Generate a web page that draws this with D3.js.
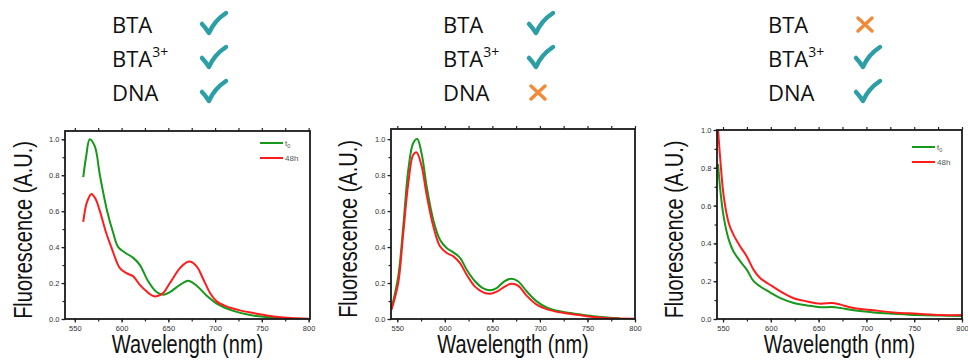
<!DOCTYPE html>
<html>
<head>
<meta charset="utf-8">
<script src="https://cdn.jsdelivr.net/npm/d3@7"></script>
<style>
  html, body { margin: 0; padding: 0; background: #fff; }
  svg { display: block; }
</style>
</head>
<body>
<svg id="chart" width="968" height="362"></svg>
<script>
// --- data ---
const rowLabels = ['BTA', 'BTA', 'DNA'];
const rowSup = ['', '3+', ''];
const presence = [
    [true, true, true],   // panel 1
    [true, true, false],  // panel 2
    [false, true, true]   // panel 3
];
const seriesNames = ['t', '48h'];
const xMajorTicks = [550, 600, 650, 700, 750, 800];
const yMajorTicks = [0, 0.2, 0.4, 0.6, 0.8, 1.0];

// panel 1 : [wavelength nm, fluorescence]
const p1T0 = [[559, 0.79], [562, 0.9], [566, 1.0], [571.4, 0.96], [576.8, 0.80], [584.6, 0.60], [591, 0.48],
    [596.4, 0.40], [603.5, 0.37], [612.5, 0.34], [619.6, 0.30], [628.5, 0.21], [637.4, 0.15], [644.6, 0.135],
    [651.7, 0.15], [662.4, 0.19], [671.3, 0.213], [680.3, 0.185], [691, 0.13], [701.7, 0.085], [719.5, 0.045],
    [737.4, 0.022], [755.2, 0.011], [773, 0.004], [799.8, 0.0]];
const p1H48 = [[559, 0.54], [563, 0.65], [567.8, 0.696], [572, 0.67], [576.8, 0.60], [583.5, 0.48], [589, 0.40],
    [598.2, 0.283], [605.3, 0.255], [612.5, 0.237], [619.6, 0.19], [626.7, 0.154], [633, 0.13], [637.4, 0.126],
    [644.6, 0.145], [651.7, 0.20], [662.4, 0.283], [669.5, 0.315], [673, 0.32], [680.3, 0.293], [687.5, 0.22],
    [694.6, 0.145], [701.7, 0.098], [712.4, 0.07], [726.6, 0.048], [740.9, 0.033], [755.2, 0.02], [773, 0.009],
    [799.8, 0.002]];

// panel 2
const p2T0 = [[544, 0.06], [551, 0.237], [556.3, 0.515], [561.6, 0.83], [566.8, 0.978], [571, 1.0], [575.6, 0.92],
    [580.9, 0.737], [587.9, 0.55], [594.9, 0.44], [601.9, 0.394], [609, 0.37], [616, 0.34], [623, 0.274],
    [631.7, 0.21], [640.5, 0.17], [647.5, 0.16], [654.5, 0.172], [663, 0.21], [670, 0.224], [677, 0.21],
    [686, 0.154], [696.6, 0.098], [707, 0.065], [721, 0.043], [738.6, 0.028], [756, 0.015], [773.7, 0.007],
    [784, 0.004]];
const p2H48 = [[544, 0.052], [551, 0.2], [556, 0.46], [561.6, 0.755], [566.8, 0.913], [570.3, 0.926], [575.6, 0.85],
    [580.9, 0.69], [587.9, 0.515], [594.9, 0.404], [602, 0.367], [609, 0.348], [616, 0.31], [623, 0.246],
    [631.7, 0.18], [640.5, 0.148], [647.5, 0.14], [654.5, 0.152], [663, 0.18], [670, 0.196], [677, 0.185],
    [686, 0.13], [696.6, 0.08], [707, 0.055], [721, 0.037], [738.6, 0.024], [756, 0.011], [773.7, 0.004],
    [800, 0.002]];

// panel 3
const p3T0 = [[544.8, 0.82], [547.2, 0.68], [550.7, 0.54], [556, 0.42], [561, 0.357], [568, 0.305], [575, 0.26],
    [582, 0.2], [589, 0.172], [599.5, 0.14], [610, 0.11], [624, 0.085], [638, 0.072], [652, 0.062], [664, 0.063],
    [672.7, 0.058], [686.7, 0.046], [707.6, 0.035], [728.5, 0.028], [753, 0.021], [777, 0.018], [800, 0.016]];
const p3H48 = [[544.8, 1.0], [547.2, 0.84], [550.7, 0.65], [556, 0.507], [561, 0.445], [568, 0.384], [575, 0.33],
    [582, 0.26], [589, 0.216], [599.5, 0.18], [610, 0.146], [624, 0.11], [638, 0.093], [652, 0.081], [664, 0.085],
    [672.7, 0.076], [686.7, 0.058], [707.6, 0.046], [728.5, 0.035], [753, 0.028], [777, 0.021], [800, 0.021]];

const panelSeries = [[p1T0, p1H48], [p2T0, p2H48], [p3T0, p3H48]];

// --- layout ---
const panels = [
    { left: 65, right: 310, top: 131, bottom: 319, xDom: [539.5, 801.5], yDom: [0, 1.046], legend: { x: 260, y: 143 }, labelX: 112, markX: 200, yLabelX: 31.7 },
    { left: 391, right: 635, top: 129, bottom: 319, xDom: [543.4, 800], yDom: [0, 1.056], legend: null, labelX: 443, markX: 527, yLabelX: 357 },
    { left: 717, right: 962, top: 130, bottom: 319, xDom: [543.7, 800], yDom: [0, 1.0], legend: { x: 912, y: 147 }, labelX: 768, markX: 854, yLabelX: 683 }
];
const rowBaselines = [33, 67, 101];
const seriesColors = ['#16991a', '#ff1c1c'];
const checkColor = '#2b9ea6';
const crossColor = '#ef8b3b';

const svg = d3.select('#chart');

panels.forEach((p, pi) => {
    const g = svg.append('g');

    // status block above the plot
    rowLabels.forEach((lab, ri) => {
        const t = g.append('text')
            .attr('x', p.labelX)
            .attr('y', rowBaselines[ri])
            .attr('font-family', '"Open Sans", sans-serif')
            .attr('font-size', 22)
            .attr('fill', '#111')
            .text(lab);
        if (rowSup[ri]) {
            t.append('tspan')
                .attr('font-size', 14)
                .attr('dy', -10)
                .text(rowSup[ri]);
        }
        const by = rowBaselines[ri];
        if (presence[pi][ri]) {
            g.append('path')
                .attr('transform', `translate(${p.markX},${by - 21})`)
                .attr('d', 'M2,12 Q5,15 9,21 Q14,9 26,1')
                .attr('fill', 'none')
                .attr('stroke', checkColor)
                .attr('stroke-width', 4.5)
                .attr('stroke-linecap', 'round')
                .attr('stroke-linejoin', 'round');
        } else {
            g.append('path')
                .attr('transform', `translate(${p.markX + 2},${by - 17})`)
                .attr('d', 'M2,2 L16,15 M16,2 L2,15')
                .attr('fill', 'none')
                .attr('stroke', crossColor)
                .attr('stroke-width', 3.5)
                .attr('stroke-linecap', 'round');
        }
    });

    const x = d3.scaleLinear().domain(p.xDom).range([p.left, p.right]);
    const y = d3.scaleLinear().domain(p.yDom).range([p.bottom, p.top]);

    // minor ticks
    const xMinor = d3.range(550, 801, 25);
    const yMinor = d3.range(0, 1.01, 0.1).filter(v => v <= p.yDom[1]);

    const styleAxis = sel => {
        sel.select('.domain').remove();
        sel.selectAll('line').attr('stroke', '#222').attr('stroke-width', 1.2);
        sel.selectAll('text')
            .attr('font-family', '"Liberation Sans", Arial, sans-serif')
            .attr('font-size', 7.5)
            .attr('fill', '#333');
    };

    g.append('g')
        .attr('transform', `translate(0,${p.bottom})`)
        .call(d3.axisBottom(x).tickValues(xMinor).tickSize(2.5).tickFormat(''))
        .call(styleAxis);
    g.append('g')
        .attr('transform', `translate(0,${p.bottom})`)
        .call(d3.axisBottom(x).tickValues(xMajorTicks).tickSize(3.5).tickPadding(3).tickFormat(d3.format('d')))
        .call(styleAxis);
    g.append('g')
        .attr('transform', `translate(0,${p.top})`)
        .call(d3.axisTop(x).tickValues(xMinor).tickSize(3).tickFormat(''))
        .call(styleAxis);
    g.append('g')
        .attr('transform', `translate(${p.left},0)`)
        .call(d3.axisLeft(y).tickValues(yMinor).tickSize(2.5).tickFormat(''))
        .call(styleAxis);
    g.append('g')
        .attr('transform', `translate(${p.left},0)`)
        .call(d3.axisLeft(y).tickValues(yMajorTicks).tickSize(3.5).tickPadding(2).tickFormat(d3.format('.1f')))
        .call(styleAxis);

    // curves
    const line = d3.line()
        .x(d => x(d[0]))
        .y(d => y(d[1]))
        .curve(d3.curveCatmullRom.alpha(0.5));

    const clipId = 'clip' + pi;
    g.append('clipPath').attr('id', clipId)
        .append('rect')
        .attr('x', p.left).attr('y', p.top)
        .attr('width', p.right - p.left).attr('height', p.bottom - p.top);

    panelSeries[pi].forEach((s, si) => {
        g.append('path')
            .datum(s)
            .attr('clip-path', `url(#${clipId})`)
            .attr('fill', 'none')
            .attr('stroke', seriesColors[si])
            .attr('stroke-width', 2)
            .attr('d', line);
    });

    // frame
    g.append('rect')
        .attr('x', p.left).attr('y', p.top)
        .attr('width', p.right - p.left).attr('height', p.bottom - p.top)
        .attr('fill', 'none')
        .attr('stroke', '#1a1a1a')
        .attr('stroke-width', 1.8);

    // legend
    if (p.legend) {
        seriesNames.forEach((name, si) => {
            const ly = p.legend.y + si * 15;
            g.append('line')
                .attr('x1', p.legend.x).attr('x2', p.legend.x + 23)
                .attr('y1', ly).attr('y2', ly)
                .attr('stroke', seriesColors[si])
                .attr('stroke-width', 2);
            const t = g.append('text')
                .attr('x', p.legend.x + 25)
                .attr('y', ly + 3)
                .attr('font-family', '"Liberation Sans", Arial, sans-serif')
                .attr('font-size', 8)
                .attr('fill', '#555')
                .text(name);
            if (si === 0) {
                t.append('tspan').attr('font-size', 5.5).attr('dy', 2).text('0');
            }
        });
    }

    // axis titles
    g.append('text')
        .attr('transform', `translate(${p.yLabelX},${(p.top + p.bottom) / 2 + 5}) rotate(-90) scale(1,1.25)`)
        .attr('text-anchor', 'middle')
        .attr('font-family', '"Liberation Sans", Arial, sans-serif')
        .attr('font-size', 20)
        .attr('fill', '#111')
        .text('Fluorescence (A.U.)');
    g.append('text')
        .attr('transform', `translate(${(p.left + p.right) / 2},353) scale(1,1.25)`)
        .attr('text-anchor', 'middle')
        .attr('font-family', '"Liberation Sans", Arial, sans-serif')
        .attr('font-size', 20)
        .attr('fill', '#111')
        .text('Wavelength (nm)');
});
</script>
</body>
</html>
